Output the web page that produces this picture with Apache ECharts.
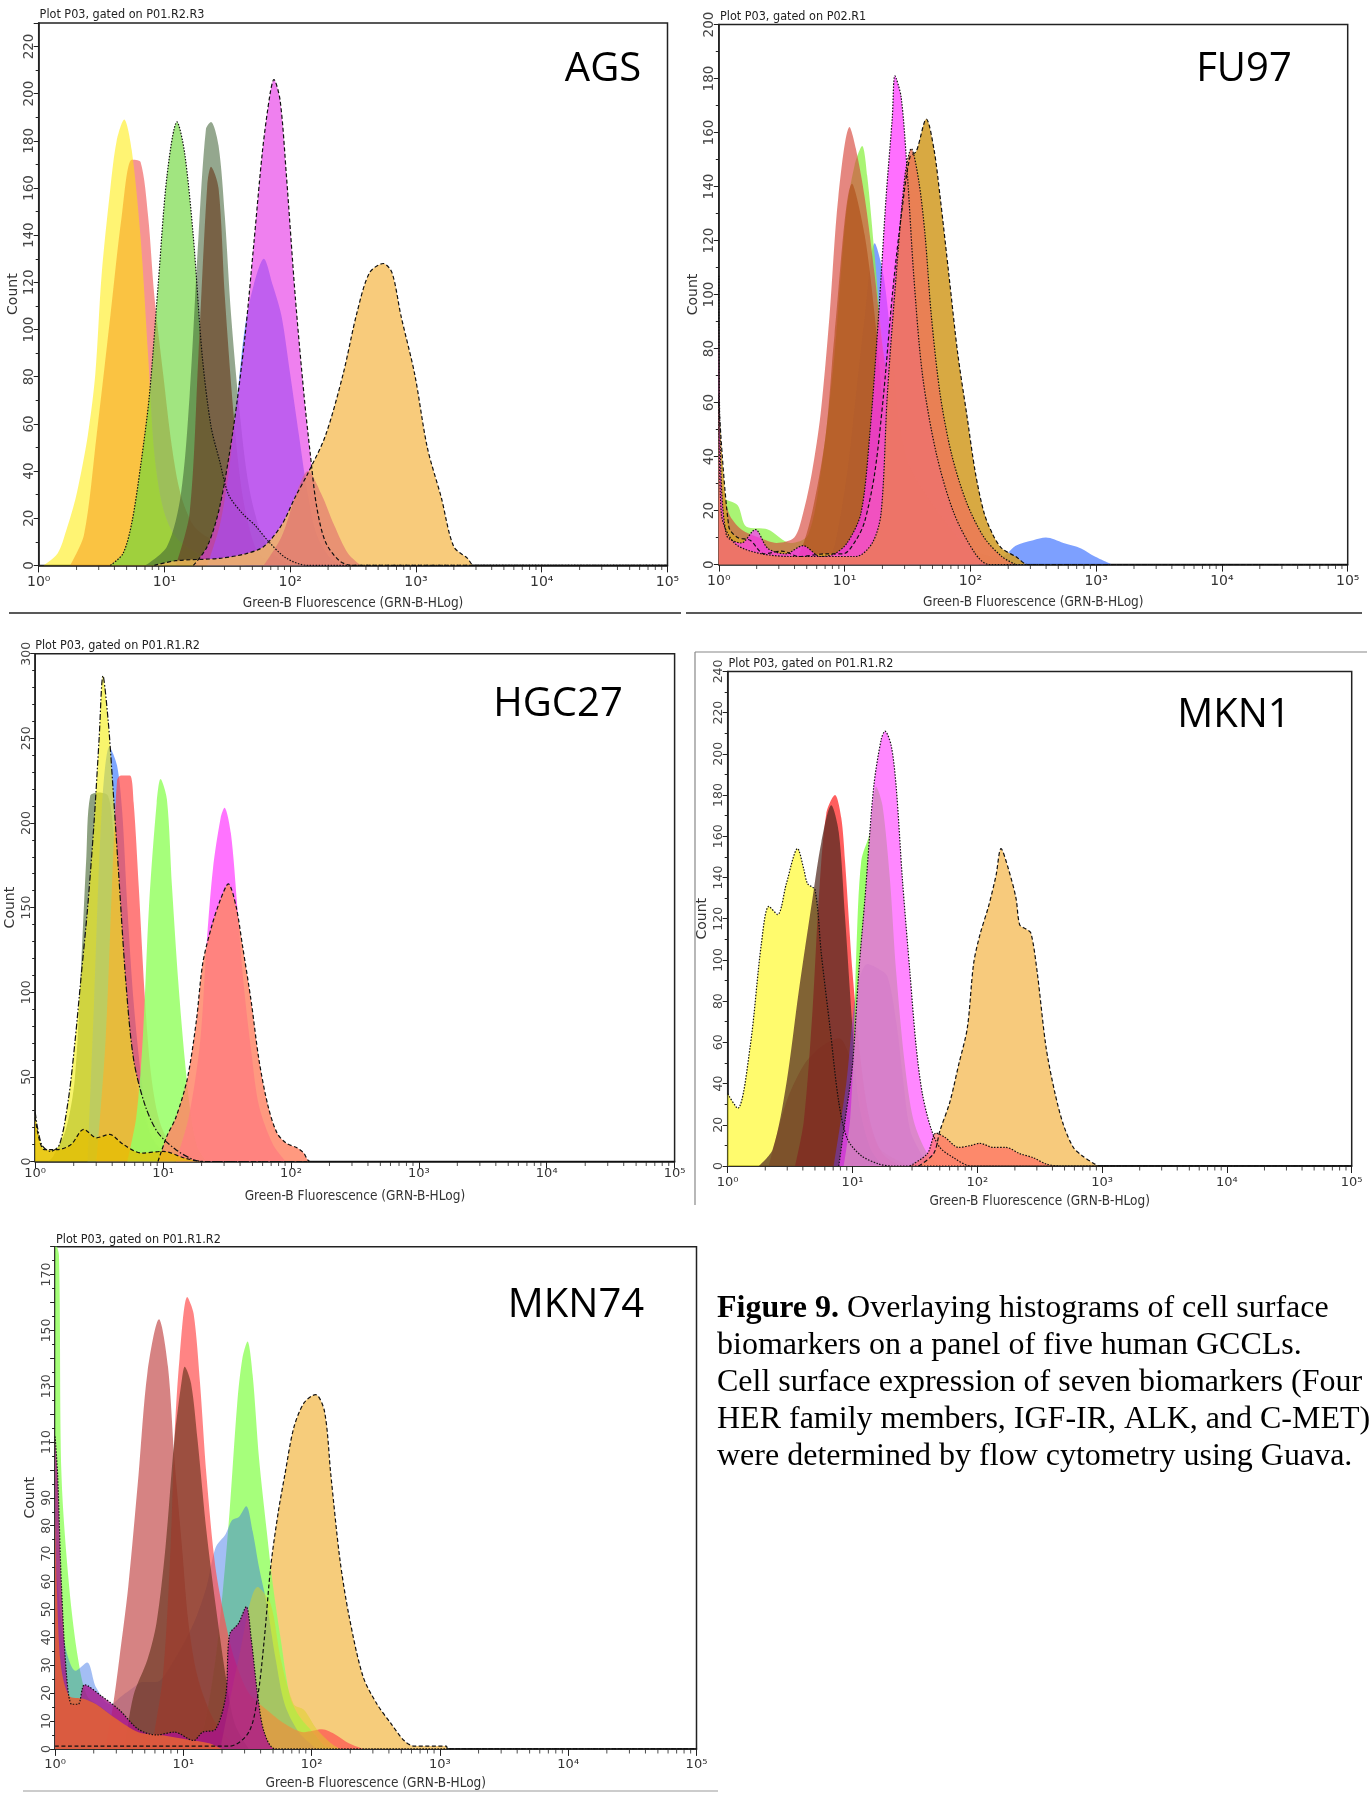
<!DOCTYPE html>
<html>
<head>
<meta charset="utf-8">
<script src="https://cdn.jsdelivr.net/npm/echarts@6/dist/echarts.min.js"></script>
<style>
  html, body { margin: 0; padding: 0; background: #fff; }
  #chart { width: 1372px; height: 1794px; }
</style>
</head>
<body>
<div id="chart"></div>
<script>
const chart = echarts.init(document.getElementById('chart'));

// x values are decades of Green-B fluorescence (log10), y values are counts
const decadeLabels = ['10⁰', '10¹', '10²', '10³', '10⁴', '10⁵'];
const panelNames = ['AGS', 'FU97', 'HGC27', 'MKN1', 'MKN74'];
const gateTitles = [
  'Plot P03, gated on P01.R2.R3',
  'Plot P03, gated on P02.R1',
  'Plot P03, gated on P01.R1.R2',
  'Plot P03, gated on P01.R1.R2',
  'Plot P03, gated on P01.R1.R2'
];
const countMax = [230, 200, 300, 240, 180];
const countStep = [20, 20, 50, 20, 10];

// AGS
const agsRed = [[0.25,0],[0.36,13],[0.46,55],[0.57,106],[0.66,148],[0.74,172],[0.81,171],[0.87,148],[0.92,114],[0.99,81],[1.06,50],[1.13,30],[1.23,17],[1.34,12],[1.44,10],[1.58,7],[1.79,3],[1.97,0]];
const agsYellow = [[0.04,0],[0.15,5],[0.22,15],[0.30,30],[0.39,55],[0.45,81],[0.50,123],[0.57,160],[0.62,180],[0.68,189],[0.74,176],[0.81,139],[0.87,89],[0.92,47],[0.99,24],[1.09,12],[1.27,5],[1.44,2],[1.65,0]];
const agsGreen = [[0.57,0],[0.67,5],[0.74,18],[0.81,42],[0.88,72],[0.95,119],[1.02,165],[1.10,188],[1.16,175],[1.23,139],[1.30,89],[1.37,59],[1.44,44],[1.51,30],[1.62,22],[1.72,17],[1.83,10],[1.97,3],[2.14,0],[5,0]];
const agsOlive = [[0.85,0],[1.02,8],[1.13,30],[1.20,72],[1.27,139],[1.33,185],[1.37,188],[1.43,178],[1.48,148],[1.53,106],[1.60,64],[1.67,34],[1.76,15],[1.86,5],[2.00,0]];
const agsBrown = [[1.09,0],[1.20,22],[1.27,89],[1.34,161],[1.37,169],[1.43,160],[1.48,114],[1.55,64],[1.62,30],[1.72,8],[1.83,0]];
const agsBlue = [[1.34,0],[1.44,17],[1.51,39],[1.58,72],[1.64,101],[1.71,119],[1.79,130],[1.86,119],[1.93,106],[2.00,81],[2.07,55],[2.14,30],[2.21,13],[2.32,3],[2.42,0]];
const agsMagenta = [[1.23,0],[1.34,8],[1.44,25],[1.55,59],[1.64,97],[1.71,136],[1.78,176],[1.84,200],[1.87,206],[1.92,197],[1.97,165],[2.04,114],[2.11,72],[2.16,47],[2.21,25],[2.28,10],[2.39,2],[2.49,0],[5,0]];
const agsOrange = [[0.92,0],[1.09,2],[1.44,3],[1.65,5],[1.79,8],[1.93,17],[2.04,29],[2.14,39],[2.28,55],[2.42,81],[2.53,107],[2.63,124],[2.74,128],[2.81,124],[2.88,106],[2.99,81],[3.09,50],[3.20,29],[3.30,8],[3.41,3],[3.46,0],[5,0]];
const agsSalmon = [[1.79,0],[1.93,12],[2.04,29],[2.14,40],[2.25,30],[2.35,17],[2.46,5],[2.56,0]];

// FU97
const fuBlue = [[0.85,0],[0.92,7],[1.02,34],[1.09,63],[1.16,92],[1.24,119],[1.31,107],[1.38,78],[1.45,48],[1.59,26],[1.80,11],[2.08,4],[2.25,3],[2.36,7],[2.50,9],[2.60,10],[2.74,8],[2.88,6],[2.99,3],[3.13,0]];
const fuGreen = [[0,48],[0.04,25],[0.15,22],[0.22,14],[0.39,13],[0.57,8],[0.71,11],[0.81,34],[0.92,78],[1.01,129],[1.08,148],[1.14,155],[1.18,144],[1.24,114],[1.31,78],[1.41,48],[1.55,26],[1.73,11],[1.94,3],[2.08,0]];
const fuRed = [[0,103],[0.02,34],[0.08,19],[0.18,13],[0.32,10],[0.46,8],[0.60,10],[0.67,19],[0.74,34],[0.81,56],[0.88,92],[0.95,136],[1.04,162],[1.09,154],[1.16,136],[1.24,107],[1.31,78],[1.41,51],[1.52,36],[1.66,25],[1.80,16],[1.97,7],[2.15,3],[2.29,0]];
const fuDarkOrange = [[0.55,0],[0.64,4],[0.74,19],[0.85,48],[0.92,85],[1.06,141],[1.16,122],[1.24,92],[1.31,56],[1.38,26],[1.45,7],[1.52,0]];
const fuGold = [[0,60],[0.08,14],[0.15,10],[0.25,9],[0.36,4],[0.50,5],[0.64,3],[0.85,4],[0.99,4],[1.09,9],[1.16,16],[1.24,34],[1.31,63],[1.38,100],[1.45,129],[1.52,151],[1.57,153],[1.65,165],[1.71,154],[1.76,136],[1.83,107],[1.90,78],[1.97,56],[2.04,34],[2.11,19],[2.18,11],[2.25,6],[2.36,3],[2.46,0],[5,0]];
const fuMagenta = [[0,107],[0.01,48],[0.06,11],[0.18,8],[0.29,13],[0.39,6],[0.53,4],[0.67,7],[0.81,3],[0.92,4],[1.02,8],[1.13,19],[1.20,48],[1.27,92],[1.33,136],[1.38,166],[1.40,181],[1.45,173],[1.50,144],[1.55,107],[1.62,70],[1.73,41],[1.87,19],[2.04,4],[2.15,0],[5,0]];
const fuCoral = [[0,63],[0.02,19],[0.15,7],[0.57,3],[1.09,3],[1.22,8],[1.29,19],[1.34,63],[1.41,107],[1.48,144],[1.53,154],[1.59,142],[1.64,122],[1.69,92],[1.76,63],[1.85,41],[1.97,23],[2.11,10],[2.25,3],[2.36,0]];

// HGC27
const hgOlive = [[0.10,0],[0.14,3],[0.24,19],[0.31,49],[0.36,117],[0.40,180],[0.43,216],[0.50,218],[0.57,216],[0.61,196],[0.65,162],[0.71,105],[0.76,60],[0.83,31],[0.93,12],[1.07,3],[1.17,0]];
const hgBlue = [[0.41,0],[0.46,94],[0.52,207],[0.58,245],[0.64,234],[0.68,207],[0.72,151],[0.77,94],[0.83,49],[0.89,19],[1.00,3],[1.10,0]];
const hgRed = [[0.48,0],[0.55,71],[0.60,162],[0.64,225],[0.67,228],[0.74,228],[0.77,212],[0.81,162],[0.86,94],[0.91,49],[0.98,22],[1.10,6],[1.24,0]];
const hgYellow = [[0,29],[0.05,10],[0.12,6],[0.19,10],[0.26,37],[0.31,70],[0.36,110],[0.41,150],[0.46,200],[0.50,250],[0.53,287],[0.57,261],[0.60,230],[0.65,173],[0.71,105],[0.77,60],[0.86,33],[0.96,17],[1.10,7],[1.24,1],[1.34,0],[5,0]];
const hgGreen = [[0.72,0],[0.79,26],[0.84,71],[0.89,151],[0.95,212],[0.98,226],[1.03,214],[1.07,162],[1.12,105],[1.17,60],[1.22,26],[1.27,8],[1.34,0]];
const hgMagenta = [[1.10,0],[1.20,26],[1.29,71],[1.34,128],[1.39,173],[1.45,203],[1.48,209],[1.53,194],[1.58,151],[1.63,105],[1.69,65],[1.75,33],[1.86,10],[1.96,0]];
const hgSalmon = [[0.96,0],[1.03,15],[1.10,26],[1.19,49],[1.26,83],[1.31,117],[1.38,139],[1.45,155],[1.51,164],[1.57,151],[1.62,128],[1.69,94],[1.75,60],[1.82,33],[1.89,17],[1.96,11],[2.05,8],[2.10,5],[2.15,0],[5,0]];
const hgGold = [[0,26],[0.07,7],[0.17,7],[0.28,10],[0.38,19],[0.48,14],[0.58,16],[0.69,10],[0.83,5],[1.00,6],[1.17,2],[1.31,0],[5,0]];

// MKN1
const mkYellow = [[0,35],[0.08,28],[0.18,58],[0.27,108],[0.33,126],[0.40,122],[0.47,137],[0.56,154],[0.61,144],[0.64,137],[0.70,134],[0.75,103],[0.82,67],[0.89,31],[0.96,13],[1.07,5],[1.21,1],[1.32,0],[5,0]];
const mkTan = [[0.33,0],[0.47,31],[0.61,49],[0.75,58],[0.89,62],[1.00,49],[1.10,26],[1.21,9],[1.32,4],[1.46,0]];
const mkOlive = [[0.25,0],[0.36,8],[0.47,40],[0.57,85],[0.68,130],[0.75,157],[0.83,175],[0.89,162],[0.94,121],[1.00,67],[1.05,31],[1.14,9],[1.24,0]];
const mkRed = [[0.54,0],[0.61,22],[0.68,76],[0.73,130],[0.79,171],[0.86,180],[0.91,169],[0.94,148],[1.00,94],[1.07,49],[1.14,22],[1.24,6],[1.39,0]];
const mkBlue = [[0.85,0],[0.95,40],[1.03,85],[1.12,98],[1.20,96],[1.28,92],[1.35,70],[1.40,45],[1.46,18],[1.55,6],[1.63,0]];
const mkGreen = [[0.93,0],[0.98,22],[1.01,58],[1.03,103],[1.07,148],[1.14,162],[1.19,184],[1.24,175],[1.30,139],[1.35,94],[1.42,49],[1.49,22],[1.60,6],[1.70,0]];
const mkMagenta = [[0.89,0],[0.94,22],[1.00,49],[1.05,94],[1.10,130],[1.17,184],[1.23,207],[1.26,211],[1.31,204],[1.35,184],[1.40,139],[1.46,94],[1.51,58],[1.56,35],[1.63,18],[1.70,9],[1.81,4],[1.95,0],[5,0]];
const mkOrange = [[1.53,0],[1.65,6],[1.70,17],[1.78,31],[1.85,49],[1.92,67],[1.97,98],[2.02,112],[2.09,126],[2.15,141],[2.19,154],[2.25,144],[2.31,130],[2.34,117],[2.39,115],[2.43,113],[2.48,94],[2.55,58],[2.62,36],[2.69,20],[2.77,9],[2.84,5],[2.94,1],[2.98,0],[5,0]];
const mkSalmon = [[1.46,0],[1.60,6],[1.67,16],[1.74,14],[1.85,9],[1.95,10],[2.02,11],[2.13,9],[2.23,9],[2.34,6],[2.45,4],[2.55,1],[2.66,0],[5,0]];

// MKN74
const m74Base = [[0,85],[0.04,32],[0.11,19],[0.22,18],[0.32,16],[0.47,11],[0.65,6],[0.82,5],[1.08,3],[1.20,2],[1.30,0]];
const m74Orange = [[0,1],[1.36,1],[1.51,6],[1.58,19],[1.63,39],[1.68,65],[1.74,85],[1.79,98],[1.86,115],[1.94,124],[2.03,127],[2.10,121],[2.15,98],[2.22,68],[2.29,48],[2.40,26],[2.51,16],[2.62,9],[2.72,3],[2.80,1],[3.05,1],[3.06,0],[5,0]];
const m74Green = [[0,182],[0.03,177],[0.05,98],[0.11,58],[0.18,32],[0.25,19],[0.36,15],[0.47,11],[0.57,7],[0.72,3],[0.93,1],[1.08,1],[1.15,6],[1.25,32],[1.31,58],[1.36,85],[1.42,124],[1.46,140],[1.50,146],[1.54,134],[1.59,104],[1.65,78],[1.70,58],[1.76,39],[1.83,19],[1.90,12],[2.01,6],[2.11,1],[2.22,0]];
const m74Blue = [[0,72],[0.07,39],[0.16,28],[0.25,31],[0.32,22],[0.43,16],[0.52,19],[0.61,22],[0.68,24],[0.79,24],[0.93,32],[1.08,45],[1.18,58],[1.25,72],[1.33,77],[1.38,82],[1.43,83],[1.49,87],[1.54,78],[1.59,65],[1.65,52],[1.72,32],[1.79,16],[1.90,6],[2.04,0]];
const m74Rosy = [[0.39,0],[0.45,15],[0.50,32],[0.57,58],[0.65,98],[0.72,135],[0.81,154],[0.88,137],[0.93,104],[0.99,72],[1.04,45],[1.11,26],[1.22,12],[1.36,3],[1.47,0]];
const m74Red = [[0.75,0],[0.84,26],[0.90,72],[0.93,111],[0.97,140],[1.03,162],[1.08,156],[1.13,131],[1.18,98],[1.25,65],[1.33,45],[1.40,32],[1.51,20],[1.65,14],[1.79,9],[1.94,6],[2.08,7],[2.19,5],[2.29,2],[2.40,0]];
const m74Brown = [[0.54,0],[0.61,19],[0.72,32],[0.79,45],[0.86,72],[0.93,111],[0.99,133],[1.01,137],[1.06,131],[1.11,111],[1.18,78],[1.25,52],[1.33,26],[1.40,9],[1.51,0]];
const m74Yellow = [[1.29,0],[1.43,32],[1.58,58],[1.68,52],[1.76,32],[1.86,16],[1.94,14],[2.04,7],[2.15,2],[2.22,0]];
const m74Magenta = [[0,112],[0.02,98],[0.05,58],[0.09,26],[0.13,16],[0.18,16],[0.23,23],[0.36,19],[0.50,14],[0.65,7],[0.79,5],[0.93,6],[1.08,3],[1.15,6],[1.25,7],[1.33,19],[1.36,41],[1.43,45],[1.49,51],[1.53,39],[1.58,19],[1.63,6],[1.72,0],[5,0]];

// draw order = array order; edge = black outline style
const panelSeries = [
  [
    { data: agsRed, fill: 'rgba(236,60,60,0.55)' },
    { data: agsYellow, fill: 'rgba(255,235,0,0.55)' },
    { data: agsGreen, fill: 'rgba(110,215,60,0.65)', edge: 'dotted' },
    { data: agsOlive, fill: 'rgba(60,95,50,0.55)' },
    { data: agsBrown, fill: 'rgba(110,70,40,0.7)' },
    { data: agsBlue, fill: 'rgba(50,110,255,0.65)' },
    { data: agsMagenta, fill: 'rgba(230,60,230,0.65)', edge: 'dashed' },
    { data: agsOrange, fill: 'rgba(246,190,90,0.8)', edge: 'dashed' },
    { data: agsSalmon, fill: 'rgba(220,100,110,0.55)' }
  ],
  [
    { data: fuBlue, fill: 'rgba(70,120,255,0.7)' },
    { data: fuGreen, fill: 'rgba(140,240,70,0.75)' },
    { data: fuRed, fill: 'rgba(215,70,60,0.65)' },
    { data: fuDarkOrange, fill: 'rgba(175,75,20,0.6)' },
    { data: fuGold, fill: 'rgba(212,160,45,0.9)', edge: 'dashed' },
    { data: fuMagenta, fill: 'rgba(255,50,255,0.7)', edge: 'dotted' },
    { data: fuCoral, fill: 'rgba(236,122,88,0.85)', edge: 'dotted' }
  ],
  [
    { data: hgOlive, fill: 'rgba(80,110,60,0.65)' },
    { data: hgBlue, fill: 'rgba(70,130,255,0.7)' },
    { data: hgRed, fill: 'rgba(255,70,70,0.7)' },
    { data: hgYellow, fill: 'rgba(245,240,30,0.65)', edge: 'dashdot' },
    { data: hgGreen, fill: 'rgba(150,255,100,0.85)' },
    { data: hgMagenta, fill: 'rgba(255,80,255,0.8)' },
    { data: hgSalmon, fill: 'rgba(255,135,105,0.85)', edge: 'dashed' },
    { data: hgGold, fill: 'rgba(230,190,0,0.75)', edge: 'dashed' }
  ],
  [
    { data: mkYellow, fill: 'rgba(255,250,60,0.75)', edge: 'dotted' },
    { data: mkTan, fill: 'rgba(225,140,50,0.55)' },
    { data: mkRed, fill: 'rgba(255,40,40,0.75)' },
    { data: mkOlive, fill: 'rgba(80,40,30,0.72)' },
    { data: mkBlue, fill: 'rgba(110,60,220,0.5)' },
    { data: mkGreen, fill: 'rgba(130,255,70,0.8)' },
    { data: mkMagenta, fill: 'rgba(255,70,255,0.65)', edge: 'dotted' },
    { data: mkOrange, fill: 'rgba(245,190,95,0.82)', edge: 'dashed' },
    { data: mkSalmon, fill: 'rgba(255,110,100,0.7)', edge: 'dotted' }
  ],
  [
    { data: m74Orange, fill: 'rgba(245,195,100,0.85)', edge: 'dashed' },
    { data: m74Green, fill: 'rgba(150,255,100,0.85)' },
    { data: m74Blue, fill: 'rgba(50,110,230,0.45)' },
    { data: m74Rosy, fill: 'rgba(200,90,90,0.75)' },
    { data: m74Red, fill: 'rgba(255,80,80,0.7)' },
    { data: m74Brown, fill: 'rgba(90,45,20,0.6)' },
    { data: m74Yellow, fill: 'rgba(220,210,40,0.5)' },
    { data: m74Magenta, fill: 'rgba(170,20,140,0.8)', edge: 'dotted' },
    { data: m74Base, fill: 'rgba(225,95,55,0.9)' }
  ]
];

const edgeTypes = { dashed: [4, 2.5], dotted: [1.5, 1.5], dashdot: [6, 2, 1.5, 2] };

// layout of the five plot boxes (pixels)
const layout = [
  { grid: { left: 38.7, top: 22.9, width: 628.8, height: 542.5 }, label: [603, 70], title: [39.6, 15], fs: 14, lm: 10, ng: 31 },
  { grid: { left: 718.8, top: 24.5, width: 628.9, height: 540.1 }, label: [1244, 70], title: [720, 16.6], fs: 14, lm: 10, ng: 31 },
  { grid: { left: 35.2, top: 653.7, width: 639.4, height: 507.8 }, label: [558, 705], title: [35.2, 646], fs: 13, lm: 6, ng: 28 },
  { grid: { left: 727.7, top: 671.4, width: 624, height: 494.6 }, label: [1234, 715.5], title: [728.5, 664], fs: 13, lm: 10, ng: 28 },
  { grid: { left: 55.1, top: 1246.7, width: 641.4, height: 502.2 }, label: [576, 1305.5], title: [56, 1240], fs: 13, lm: 9, ng: 28 }
];

// minor tick positions inside each decade (2..9)
const minorTicks = [];
for (let d = 0; d < 5; d++) {
  for (let k = 2; k <= 9; k++) minorTicks.push([d + Math.log10(k), 0]);
}

const narrow = '"Liberation Sans Narrow", "DejaVu Sans Condensed", "Roboto Condensed", "Liberation Sans", sans-serif';

const grids = [], xAxes = [], yAxes = [], series = [], graphics = [];

layout.forEach((p, i) => {
  grids.push(Object.assign({ show: true, borderColor: '#222', borderWidth: 1.5, backgroundColor: 'transparent' }, p.grid));
  xAxes.push({
    type: 'value', gridIndex: i, min: 0, max: 5, interval: 1,
    axisLine: { show: true, onZero: false, lineStyle: { color: '#222', width: 1.5 } },
    axisTick: { show: true, length: 7, lineStyle: { color: '#222' } },
    splitLine: { show: false },
    axisLabel: { formatter: (v) => decadeLabels[v], fontFamily: 'DejaVu Sans', fontSize: p.fs, color: '#333', margin: p.lm },
    name: 'Green-B Fluorescence (GRN-B-HLog)', nameLocation: 'middle', nameGap: p.ng,
    nameTextStyle: { fontFamily: narrow, fontSize: 13.5, color: '#333' }
  });
  const step = countStep[i];
  yAxes.push({
    type: 'value', gridIndex: i, min: 0, max: countMax[i], interval: step,
    axisLine: { show: true, lineStyle: { color: '#222', width: 1.5 } },
    axisTick: { show: true, length: 5, lineStyle: { color: '#222' } },
    minorTick: { show: true, splitNumber: step === 50 ? 5 : 2, length: 3, lineStyle: { color: '#222' } },
    splitLine: { show: false },
    axisLabel: {
      rotate: 90, margin: 2, fontFamily: 'DejaVu Sans', fontSize: p.fs - 0.5, color: '#444',
      formatter: (v) => {
        if (v % step !== 0) return '';
        if (step === 10 && v >= 100 && v % 20 === 0) return '';
        return String(v);
      }
    },
    name: 'Count', nameLocation: 'middle', nameRotate: 90, nameGap: 18,
    nameTextStyle: { fontFamily: 'DejaVu Sans', fontSize: 14, color: '#333' }
  });

  const list = panelSeries[i];
  list.forEach((s) => {
    series.push({
      type: 'line', xAxisIndex: i, yAxisIndex: i, data: s.data,
      smooth: 0.3, showSymbol: false, silent: true, z: 2,
      lineStyle: { width: 0 },
      areaStyle: { color: s.fill, opacity: 1 }
    });
  });
  // black outlines on top of all fills
  list.filter((s) => s.edge).forEach((s) => {
    series.push({
      type: 'line', xAxisIndex: i, yAxisIndex: i, data: s.data,
      smooth: 0.3, showSymbol: false, silent: true, z: 3,
      lineStyle: { color: '#111', width: 1.2, type: edgeTypes[s.edge] }
    });
  });
  series.push({
    type: 'scatter', xAxisIndex: i, yAxisIndex: i, data: minorTicks,
    symbol: 'rect', symbolSize: [1, 4], symbolOffset: [0, 2.5],
    itemStyle: { color: '#222' }, silent: true, clip: false, z: 4
  });

  graphics.push({
    type: 'text', x: p.label[0], y: p.label[1],
    style: { text: panelNames[i], font: '40px "Open Sans", sans-serif', fill: '#000', align: 'center', verticalAlign: 'middle' }
  });
  graphics.push({
    type: 'text', x: p.title[0], y: p.title[1],
    style: { text: gateTitles[i], font: '12.5px ' + narrow, fill: '#222', align: 'left', verticalAlign: 'middle' }
  });
});

// panel separators / frame fragments
graphics.push(
  { type: 'line', shape: { x1: 9, y1: 613, x2: 681, y2: 613 }, style: { stroke: '#222', lineWidth: 1.5 } },
  { type: 'line', shape: { x1: 686, y1: 613, x2: 1362, y2: 613 }, style: { stroke: '#222', lineWidth: 1.5 } },
  { type: 'line', shape: { x1: 695, y1: 652, x2: 1367, y2: 652 }, style: { stroke: '#888', lineWidth: 1.2 } },
  { type: 'line', shape: { x1: 695, y1: 652, x2: 695, y2: 1205 }, style: { stroke: '#888', lineWidth: 1.2 } },
  { type: 'line', shape: { x1: 23, y1: 1791, x2: 718, y2: 1791 }, style: { stroke: '#bbb', lineWidth: 1.5 } }
);

// figure caption
const captionLines = [
  '{b|Figure 9.} Overlaying histograms of cell surface',
  'biomarkers on a panel of five human GCCLs.',
  'Cell surface expression of seven biomarkers (Four',
  'HER family members, IGF-IR, ALK, and C-MET)',
  'were determined by flow cytometry using Guava.'
];
graphics.push({
  type: 'text', x: 717, y: 1290,
  style: {
    text: captionLines.join('\n'),
    fontFamily: '"Liberation Serif", "DejaVu Serif", serif', fontSize: 32, lineHeight: 37, fill: '#000',
    align: 'left', verticalAlign: 'top',
    rich: { b: { fontFamily: '"Liberation Serif", "DejaVu Serif", serif', fontSize: 32, fontWeight: 'bold', lineHeight: 37, fill: '#000' } }
  }
});

chart.setOption({
  animation: false,
  grid: grids,
  xAxis: xAxes,
  yAxis: yAxes,
  series: series,
  graphic: graphics
});

window.addEventListener('resize', () => {
  chart.resize();
});
</script>
</body>
</html>
